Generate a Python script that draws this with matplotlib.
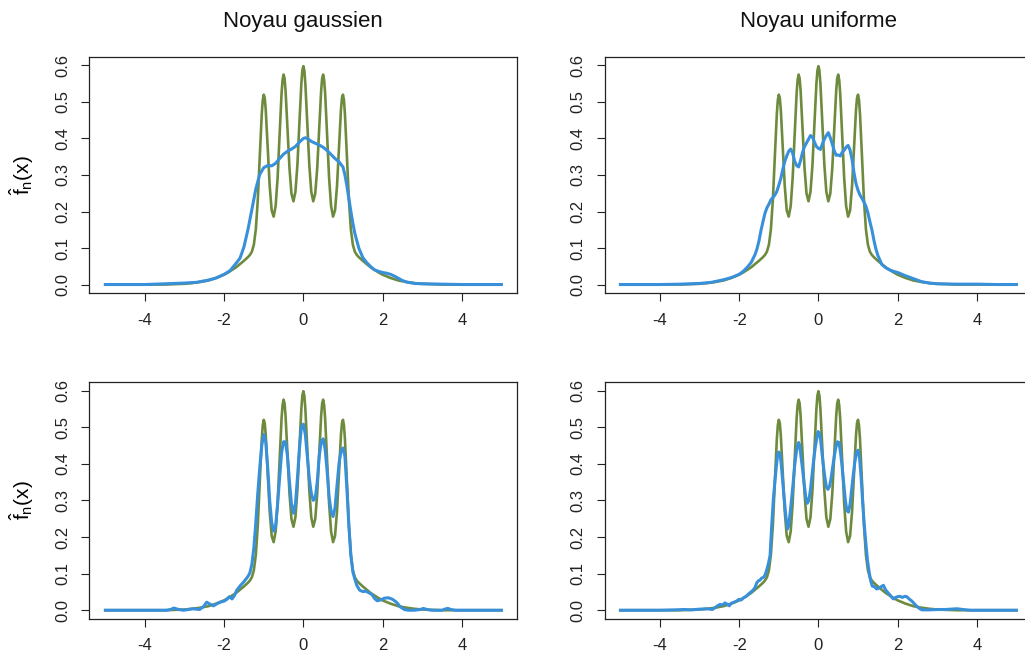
"""
Estimateurs a noyau de la densite 'claw' : noyau gaussien vs uniforme,
deux largeurs de fenetre (ligne du haut : grande, ligne du bas : petite).
"""

import matplotlib
matplotlib.use("Agg")
import matplotlib.pyplot as plt

plt.rcParams["font.family"] = ["Liberation Sans", "DejaVu Sans"]
plt.rcParams["mathtext.fontset"] = "custom"
plt.rcParams["mathtext.rm"] = "Liberation Sans"
plt.rcParams["mathtext.it"] = "Liberation Sans"

# --- vraie densite (vert), identique dans les 4 panneaux ---
x_vrai = [-5.0, -4.5, -4.0, -3.5, -3.0, -2.8, -2.6, -2.4, -2.2, -2.0,
          -1.9, -1.8, -1.7, -1.6, -1.5, -1.45, -1.4, -1.35, -1.3, -1.25,
          -1.2, -1.15, -1.1, -1.05, -1.025, -1.0, -0.975, -0.95, -0.9, -0.85,
          -0.8, -0.75, -0.7, -0.65, -0.6, -0.55, -0.525, -0.5, -0.475, -0.45,
          -0.4, -0.35, -0.3, -0.25, -0.2, -0.15, -0.1, -0.05, -0.025, 0.0,
          0.025, 0.05, 0.1, 0.15, 0.2, 0.25, 0.3, 0.35, 0.4, 0.45,
          0.475, 0.5, 0.525, 0.55, 0.6, 0.65, 0.7, 0.75, 0.8, 0.85,
          0.9, 0.95, 0.975, 1.0, 1.025, 1.05, 1.1, 1.15, 1.2, 1.25,
          1.3, 1.35, 1.4, 1.45, 1.5, 1.6, 1.7, 1.8, 1.9, 2.0,
          2.2, 2.4, 2.6, 2.8, 3.0, 3.5, 4.0, 4.5, 5.0]
y_vrai = [0.000, 0.000, 0.000, 0.000, 0.002, 0.004, 0.007, 0.011, 0.018, 0.027,
          0.033, 0.040, 0.047, 0.056, 0.065, 0.070, 0.075, 0.081, 0.090, 0.109,
          0.151, 0.232, 0.351, 0.467, 0.505, 0.520, 0.511, 0.479, 0.375, 0.270,
          0.203, 0.186, 0.215, 0.292, 0.409, 0.524, 0.560, 0.575, 0.565, 0.532,
          0.426, 0.318, 0.249, 0.228, 0.254, 0.328, 0.441, 0.551, 0.586, 0.598,
          0.586, 0.551, 0.441, 0.328, 0.254, 0.228, 0.249, 0.318, 0.426, 0.532,
          0.565, 0.575, 0.560, 0.524, 0.409, 0.292, 0.215, 0.186, 0.203, 0.270,
          0.375, 0.479, 0.511, 0.520, 0.505, 0.467, 0.351, 0.232, 0.151, 0.109,
          0.090, 0.081, 0.075, 0.070, 0.065, 0.056, 0.047, 0.040, 0.033, 0.027,
          0.018, 0.011, 0.007, 0.004, 0.002, 0.000, 0.000, 0.000, 0.000]

# --- noyau gaussien, grande fenetre ---
x_gauss_h1 = [-5.0, -4.0, -3.5, -3.0, -2.7, -2.4, -2.2, -2.0, -1.85, -1.7,
              -1.6, -1.5, -1.4, -1.3, -1.2, -1.1, -1.0, -0.9, -0.8, -0.7,
              -0.6, -0.5, -0.4, -0.3, -0.2, -0.1, 0.0, 0.05, 0.1, 0.2,
              0.3, 0.4, 0.5, 0.6, 0.7, 0.8, 0.9, 1.0, 1.05, 1.1,
              1.15, 1.2, 1.25, 1.3, 1.4, 1.5, 1.6, 1.7, 1.8, 1.9,
              2.0, 2.1, 2.2, 2.3, 2.4, 2.5, 2.6, 2.8, 3.0, 3.5,
              4.0, 5.0]
y_gauss_h1 = [0.000, 0.000, 0.002, 0.004, 0.006, 0.012, 0.018, 0.028, 0.038, 0.058,
              0.072, 0.103, 0.150, 0.205, 0.262, 0.302, 0.320, 0.326, 0.325, 0.332,
              0.345, 0.357, 0.365, 0.371, 0.378, 0.390, 0.400, 0.402, 0.400, 0.392,
              0.387, 0.382, 0.376, 0.367, 0.356, 0.345, 0.336, 0.322, 0.300, 0.270,
              0.235, 0.200, 0.168, 0.140, 0.100, 0.074, 0.060, 0.049, 0.040, 0.036,
              0.033, 0.031, 0.028, 0.023, 0.017, 0.011, 0.007, 0.003, 0.002, 0.001,
              0.000, 0.000]

# --- noyau uniforme, grande fenetre ---
x_unif_h1 = [-5.0, -4.0, -3.5, -3.0, -2.7, -2.4, -2.2, -2.0, -1.9, -1.8,
             -1.7, -1.6, -1.55, -1.5, -1.45, -1.4, -1.35, -1.3, -1.25, -1.2,
             -1.15, -1.1, -1.05, -1.0, -0.95, -0.9, -0.85, -0.8, -0.75, -0.7,
             -0.65, -0.6, -0.55, -0.5, -0.45, -0.4, -0.35, -0.3, -0.25, -0.2,
             -0.15, -0.1, -0.05, 0.0, 0.05, 0.1, 0.15, 0.2, 0.25, 0.3,
             0.35, 0.4, 0.45, 0.5, 0.55, 0.6, 0.65, 0.7, 0.75, 0.8,
             0.85, 0.9, 0.95, 1.0, 1.05, 1.1, 1.15, 1.2, 1.25, 1.3,
             1.35, 1.4, 1.45, 1.5, 1.6, 1.7, 1.8, 1.9, 2.0, 2.2,
             2.4, 2.6, 2.8, 3.0, 3.5, 4.0, 4.5, 5.0]
y_unif_h1 = [0.000, 0.000, 0.001, 0.003, 0.006, 0.013, 0.019, 0.028, 0.036, 0.047,
             0.060, 0.082, 0.098, 0.120, 0.148, 0.172, 0.195, 0.210, 0.220, 0.232,
             0.238, 0.245, 0.255, 0.272, 0.290, 0.315, 0.337, 0.352, 0.365, 0.371,
             0.360, 0.338, 0.326, 0.322, 0.340, 0.362, 0.378, 0.388, 0.398, 0.408,
             0.404, 0.390, 0.378, 0.373, 0.370, 0.385, 0.398, 0.408, 0.416, 0.402,
             0.385, 0.366, 0.354, 0.355, 0.352, 0.362, 0.368, 0.376, 0.381, 0.368,
             0.342, 0.305, 0.276, 0.258, 0.245, 0.236, 0.226, 0.214, 0.196, 0.172,
             0.150, 0.122, 0.098, 0.080, 0.055, 0.046, 0.040, 0.036, 0.033, 0.024,
             0.016, 0.008, 0.004, 0.002, 0.001, 0.001, 0.000, 0.000]

# --- noyau gaussien, petite fenetre ---
x_gauss_h2 = [-5.0, -4.0, -3.45, -3.35, -3.27, -3.15, -3.03, -2.9, -2.8, -2.7,
              -2.62, -2.52, -2.44, -2.35, -2.27, -2.18, -2.1, -2.0, -1.93, -1.87,
              -1.8, -1.74, -1.68, -1.6, -1.5, -1.4, -1.35, -1.3, -1.25, -1.2,
              -1.15, -1.1, -1.05, -1.0, -0.95, -0.9, -0.85, -0.8, -0.75, -0.7,
              -0.65, -0.6, -0.55, -0.5, -0.45, -0.4, -0.35, -0.3, -0.25, -0.2,
              -0.15, -0.1, -0.05, 0.0, 0.05, 0.1, 0.15, 0.2, 0.25, 0.3,
              0.35, 0.4, 0.45, 0.5, 0.55, 0.6, 0.65, 0.7, 0.75, 0.8,
              0.85, 0.9, 0.95, 1.0, 1.05, 1.1, 1.15, 1.2, 1.25, 1.3,
              1.35, 1.42, 1.5, 1.58, 1.65, 1.73, 1.8, 1.86, 1.95, 2.05,
              2.15, 2.25, 2.35, 2.45, 2.55, 2.65, 2.8, 2.95, 3.03, 3.12,
              3.25, 3.5, 3.6, 3.65, 3.72, 3.85, 4.5, 5.0]
y_gauss_h2 = [0.000, 0.000, 0.000, 0.002, 0.006, 0.002, 0.000, 0.002, 0.004, 0.003,
              0.002, 0.010, 0.022, 0.016, 0.012, 0.018, 0.022, 0.025, 0.030, 0.037,
              0.031, 0.040, 0.055, 0.066, 0.078, 0.092, 0.102, 0.125, 0.170, 0.240,
              0.320, 0.390, 0.450, 0.480, 0.460, 0.390, 0.300, 0.240, 0.216, 0.230,
              0.290, 0.360, 0.430, 0.460, 0.460, 0.420, 0.350, 0.290, 0.265, 0.290,
              0.360, 0.440, 0.500, 0.508, 0.480, 0.420, 0.360, 0.320, 0.300, 0.305,
              0.350, 0.420, 0.460, 0.468, 0.440, 0.380, 0.310, 0.270, 0.256, 0.280,
              0.340, 0.400, 0.435, 0.443, 0.420, 0.330, 0.230, 0.150, 0.105, 0.085,
              0.068, 0.055, 0.051, 0.052, 0.048, 0.043, 0.032, 0.026, 0.028, 0.033,
              0.034, 0.030, 0.022, 0.009, 0.002, 0.000, 0.000, 0.002, 0.005, 0.002,
              0.000, 0.000, 0.004, 0.005, 0.002, 0.000, 0.000, 0.000]

# --- noyau uniforme, petite fenetre ---
x_unif_h2 = [-5.0, -4.0, -3.6, -3.4, -3.2, -3.0, -2.8, -2.68, -2.61, -2.55,
             -2.48, -2.42, -2.36, -2.3, -2.25, -2.2, -2.15, -2.08, -2.0, -1.95,
             -1.89, -1.82, -1.76, -1.7, -1.65, -1.6, -1.56, -1.52, -1.48, -1.43,
             -1.38, -1.34, -1.3, -1.26, -1.22, -1.18, -1.14, -1.1, -1.06, -1.03,
             -1.0, -0.97, -0.94, -0.9, -0.86, -0.82, -0.78, -0.75, -0.72, -0.68,
             -0.64, -0.6, -0.56, -0.53, -0.5, -0.47, -0.44, -0.4, -0.36, -0.32,
             -0.28, -0.24, -0.2, -0.16, -0.12, -0.08, -0.04, -0.01, 0.02, 0.05,
             0.08, 0.12, 0.16, 0.2, 0.24, 0.28, 0.32, 0.36, 0.4, 0.44,
             0.48, 0.52, 0.56, 0.6, 0.64, 0.68, 0.72, 0.76, 0.8, 0.84,
             0.88, 0.92, 0.96, 1.0, 1.04, 1.08, 1.12, 1.16, 1.2, 1.24,
             1.28, 1.32, 1.36, 1.42, 1.47, 1.52, 1.58, 1.64, 1.7, 1.77,
             1.83, 1.89, 1.95, 2.0, 2.06, 2.12, 2.18, 2.23, 2.3, 2.36,
             2.42, 2.48, 2.55, 2.61, 2.8, 3.0, 3.2, 3.5, 3.65, 3.83,
             4.5, 5.0]
y_unif_h2 = [0.000, 0.000, 0.001, 0.002, 0.001, 0.003, 0.004, 0.002, 0.007, 0.012,
             0.016, 0.014, 0.020, 0.016, 0.012, 0.019, 0.021, 0.024, 0.030, 0.028,
             0.034, 0.038, 0.045, 0.050, 0.055, 0.062, 0.074, 0.080, 0.082, 0.088,
             0.090, 0.098, 0.112, 0.128, 0.150, 0.230, 0.300, 0.350, 0.395, 0.425,
             0.432, 0.428, 0.400, 0.350, 0.300, 0.255, 0.222, 0.230, 0.260, 0.300,
             0.345, 0.395, 0.430, 0.448, 0.458, 0.450, 0.420, 0.385, 0.345, 0.310,
             0.292, 0.300, 0.330, 0.370, 0.410, 0.445, 0.470, 0.488, 0.484, 0.470,
             0.440, 0.400, 0.365, 0.338, 0.330, 0.338, 0.360, 0.390, 0.420, 0.445,
             0.460, 0.458, 0.430, 0.390, 0.345, 0.300, 0.272, 0.268, 0.290, 0.330,
             0.370, 0.405, 0.430, 0.437, 0.415, 0.360, 0.290, 0.230, 0.180, 0.135,
             0.105, 0.080, 0.066, 0.064, 0.058, 0.060, 0.064, 0.068, 0.055, 0.046,
             0.038, 0.031, 0.035, 0.037, 0.038, 0.035, 0.038, 0.037, 0.030, 0.025,
             0.018, 0.011, 0.005, 0.001, 0.001, 0.002, 0.002, 0.004, 0.002, 0.000,
             0.000, 0.000]

titres = ["Noyau gaussien", "Noyau uniforme"]
x_ticks = [-4, -2, 0, 2, 4]
y_ticks = [0.0, 0.1, 0.2, 0.3, 0.4, 0.5, 0.6]
y_ticklabels = ["0.0", "0.1", "0.2", "0.3", "0.4", "0.5", "0.6"]

VERT = "#6e8b3d"
BLEU = "#3890db"

fig = plt.figure(figsize=(10.25, 6.57), dpi=100)

# positions des 4 panneaux [gauche, bas, largeur, hauteur] (fractions de figure)
positions = [
    [0.0873, 0.5536, 0.4173, 0.3601],
    [0.5898, 0.5536, 0.4173, 0.3601],
    [0.0873, 0.0578, 0.4173, 0.3612],
    [0.5898, 0.0578, 0.4173, 0.3612],
]
estimations = [
    (x_gauss_h1, y_gauss_h1),
    (x_unif_h1, y_unif_h1),
    (x_gauss_h2, y_gauss_h2),
    (x_unif_h2, y_unif_h2),
]

for i, (pos, (xb, yb)) in enumerate(zip(positions, estimations)):
    ax = fig.add_axes(pos)
    ax.plot(x_vrai, y_vrai, color=VERT, lw=1.9, zorder=2)
    ax.plot(xb, yb, color=BLEU, lw=2.2, zorder=3)

    ax.set_xlim(-5.4, 5.4)
    ax.set_ylim(-0.024, 0.624)
    ax.set_xticks(x_ticks)
    ax.set_xticklabels([str(t) for t in x_ticks])
    ax.set_yticks(y_ticks)
    ax.set_yticklabels(y_ticklabels, rotation=90, va="center")
    ax.tick_params(direction="out", length=6, width=0.8, pad=8,
                   labelsize=12, colors="#222222")
    for s in ax.spines.values():
        s.set_linewidth(0.9)
        s.set_color("#222222")

    if i % 2 == 0:
        ax.set_ylabel(r"$\hat{\mathrm{f}}_{\mathrm{n}}(\mathrm{x})$", fontsize=15)
        ax.yaxis.set_label_coords(-0.125, 0.5)

    if i < 2:
        cx = pos[0] + pos[2] / 2
        fig.text(cx, 1 - 22 / 657, titres[i], ha="center", va="center",
                 fontsize=16, color="#111111")

fig.savefig("out.png", dpi=100)
